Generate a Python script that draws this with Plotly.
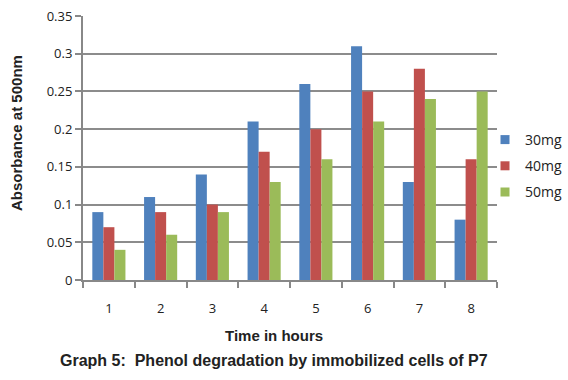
import plotly.graph_objects as go

hours = ["1", "2", "3", "4", "5", "6", "7", "8"]
s30 = [0.09, 0.11, 0.14, 0.21, 0.26, 0.31, 0.13, 0.08]
s40 = [0.07, 0.09, 0.10, 0.17, 0.20, 0.25, 0.28, 0.16]
s50 = [0.04, 0.06, 0.09, 0.13, 0.16, 0.21, 0.24, 0.25]
series = [("30mg", s30, "#4F81BD"), ("40mg", s40, "#C0504D"), ("50mg", s50, "#9BBB59")]
yticks = [0, 0.05, 0.1, 0.15, 0.2, 0.25, 0.3, 0.35]
ytext = ["0", "0.05", "0.1", "0.15", "0.2", "0.25", "0.3", "0.35"]

fig = go.Figure()
for name, vals, col in series:
    fig.add_trace(go.Bar(x=hours, y=vals, name=name, legendgroup=name, showlegend=False,
                         marker=dict(color=col, line=dict(width=0))))
for name, vals, col in series:
    # legend swatch only (small square, as in the original)
    fig.add_trace(go.Scatter(x=[None], y=[None], mode="markers", name=name, legendgroup=name,
                             marker=dict(symbol="square", size=9, color=col, line=dict(width=0))))

L, R, T, B = 83, 71, 16, 100
W, H = 568, 380
pw, ph = W - L - R, H - T - B

def px_x(x):
    return (x - L) / pw

def px_y(y):
    return (H - B - y) / ph

fig.update_layout(
    width=W, height=H,
    margin=dict(l=L, r=R, t=T, b=B, autoexpand=False),
    paper_bgcolor="white", plot_bgcolor="white",
    barmode="group", bargap=0.36, bargroupgap=0,
    font=dict(family="Open Sans", size=12, color="#222"),
    legend=dict(x=px_x(485), y=px_y(166), xanchor="left", yanchor="middle",
                font=dict(family="Open Sans", size=14, color="#222"),
                traceorder="grouped", itemwidth=30, tracegroupgap=5,
                bgcolor="rgba(0,0,0,0)"),
    showlegend=True,
    xaxis=dict(type="category", showline=True, linecolor="#888", linewidth=2,
               ticks="outside", tickson="boundaries", ticklen=6, tickcolor="#888", tickwidth=2,
               ticklabelstandoff=15,
               showgrid=False, tickfont=dict(size=13, color="#222")),
    yaxis=dict(range=[0, 0.35], tickvals=yticks, ticktext=ytext,
               showline=True, linecolor="#888", linewidth=2,
               ticks="outside", ticklen=6, tickcolor="#888", tickwidth=2,
               showgrid=True, gridcolor="#8c8c8c", gridwidth=2, zeroline=False,
               tickfont=dict(size=13, color="#222")),
    annotations=[
        dict(text="<b>Absorbance at 500nm</b>", x=px_x(16), y=px_y(133), xref="paper", yref="paper",
             xanchor="center", yanchor="middle",
             textangle=-90, showarrow=False, font=dict(family="Liberation Sans", size=15, color="#222")),
        dict(text="<b>Time in hours</b>", x=px_x(274), y=px_y(335), xref="paper", yref="paper",
             xanchor="center", yanchor="middle",
             showarrow=False, font=dict(family="Liberation Sans", size=15, color="#222")),
        dict(text="<b>Graph 5:  Phenol degradation by immobilized cells of P7</b>", x=px_x(274), y=px_y(360),
             xref="paper", yref="paper", xanchor="center", yanchor="middle", showarrow=False,
             font=dict(family="Liberation Sans", size=16, color="#222")),
    ],
)

fig.write_html("out.html", post_script="document.body.style.margin='0';",
               config={"displayModeBar": False})
